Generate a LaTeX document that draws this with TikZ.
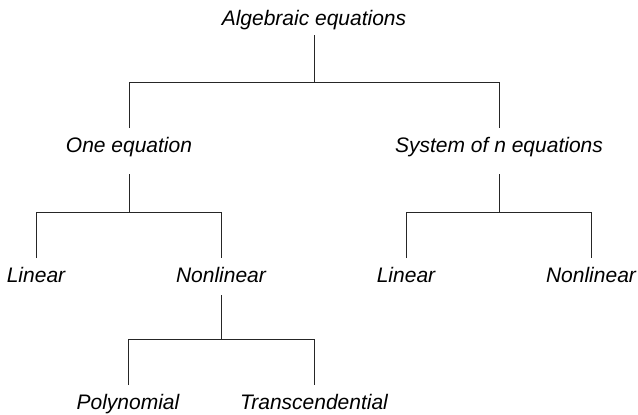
\documentclass[tikz,border=0pt]{standalone}
\usepackage{fontspec}
\setmainfont{Liberation Sans}
\begin{document}
\begin{tikzpicture}[x=1pt,y=-1pt,
  lbl/.style={anchor=base,inner sep=0pt,font=\fontsize{21}{25}\selectfont\itshape},
  conn/.style={line width=0.9pt,draw=black!85}]
\useasboundingbox (0,0) rectangle (638,415);
% labels
\node[lbl] (alg) at (314,26) {Algebraic equations};
\node[lbl] (one) at (129,152) {One equation};
\node[lbl] (sys) at (499,152) {System of n equations};
\node[lbl] (lin1) at (36,282) {Linear};
\node[lbl] (non1) at (221,282) {Nonlinear};
\node[lbl] (lin2) at (406,282) {Linear};
\node[lbl] (non2) at (591,282) {Nonlinear};
\node[lbl] (poly) at (128,409) {Polynomial};
\node[lbl] (trans) at (314,409) {Transcendential};
% junctions
\coordinate (j0) at (314,82);
\coordinate (j1) at (129,212);
\coordinate (j2) at (499,212);
\coordinate (j3) at (221,339);
% level 0
\draw[conn] ([yshift=-9pt]alg.base) -- (j0);
\draw[conn] ([yshift=24pt]one.base) -- (one.base |- j0) -- (sys.base |- j0) -- ([yshift=24pt]sys.base);
% level 1 left
\draw[conn] ([yshift=-22pt]one.base) -- (j1);
\draw[conn] ([yshift=24pt]lin1.base) -- (lin1.base |- j1) -- (non1.base |- j1) -- ([yshift=24pt]non1.base);
% level 1 right
\draw[conn] ([yshift=-22pt]sys.base) -- (j2);
\draw[conn] ([yshift=24pt]lin2.base) -- (lin2.base |- j2) -- (non2.base |- j2) -- ([yshift=24pt]non2.base);
% level 2
\draw[conn] ([yshift=-13pt]non1.base) -- (j3);
\draw[conn] ([yshift=24pt]poly.base) -- (poly.base |- j3) -- (trans.base |- j3) -- ([yshift=24pt]trans.base);
\end{tikzpicture}
\end{document}
